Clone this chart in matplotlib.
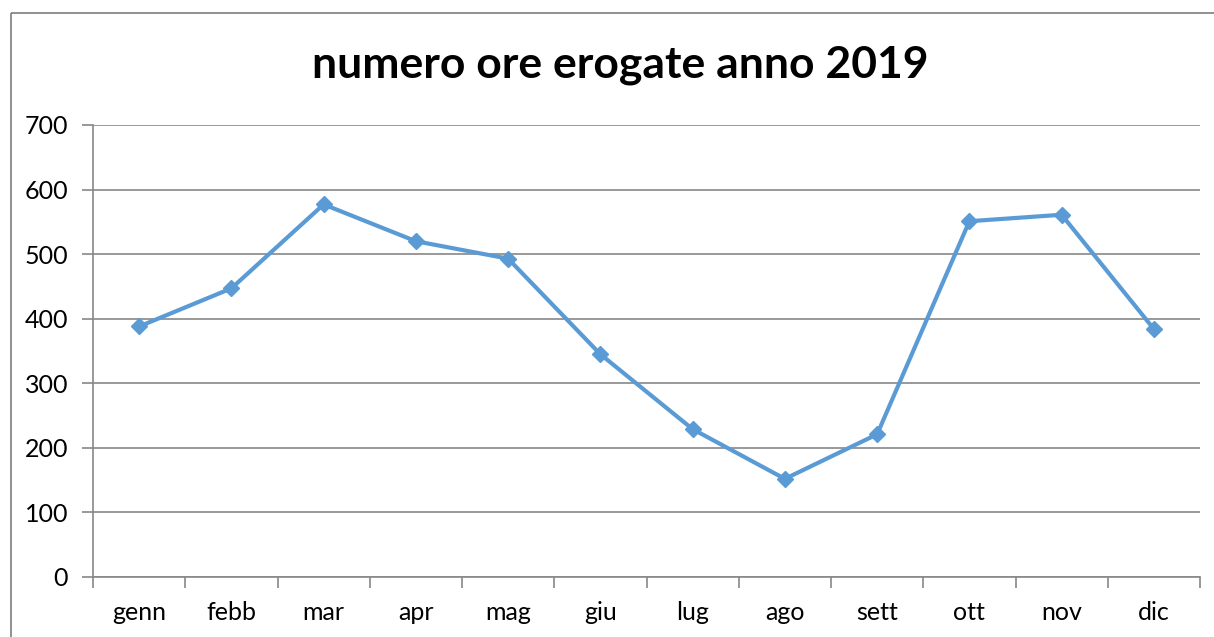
import matplotlib
matplotlib.use("Agg")
import matplotlib.pyplot as plt
from matplotlib.lines import Line2D
import numpy as np

months = ["genn", "febb", "mar", "apr", "mag", "giu", "lug", "ago", "sett", "ott", "nov", "dic"]
hours = [388, 447, 577, 520, 493, 345, 229, 152, 221, 551, 561, 384]
yticks = [0, 100, 200, 300, 400, 500, 600, 700]
title = "numero ore erogate anno 2019"

plt.rcParams['font.family'] = ['Lato', 'DejaVu Sans']

W, H = 1214, 637
fig = plt.figure(figsize=(W/100, H/100), dpi=100)

# outer chart border (top and left visible; the rest is cropped off)
bx, by = 10.5/W, 1 - 12.5/H
fig.lines.append(Line2D([bx, 1.02], [by, by], transform=fig.transFigure,
                        color="#888888", linewidth=1.3, solid_capstyle="butt"))
fig.lines.append(Line2D([bx, bx], [-0.02, by], transform=fig.transFigure,
                        color="#888888", linewidth=1.3, solid_capstyle="butt"))

ax = fig.add_axes([93/W, 1 - 577/H, (1200-93)/W, (577-125)/H])
x = np.arange(len(months))
ax.plot(x, hours, color="#5B9BD5", linewidth=3, marker="D", markersize=8,
        markeredgecolor="#5B9BD5", zorder=3, clip_on=False)

ax.set_xlim(-0.5, len(months) - 0.5)
ax.set_ylim(0, 700)
ax.set_yticks(yticks)
ax.set_yticklabels([str(v) for v in yticks])
ax.set_xticks(x)
ax.set_xticklabels(months)
ax.set_xticks(np.arange(-0.5, len(months)), minor=True)
ax.tick_params(axis="x", which="major", length=0, pad=17, labelsize=18)
ax.tick_params(axis="x", which="minor", length=8, color="#888888", width=1.2)
ax.tick_params(axis="y", length=8, color="#888888", width=1.2, pad=10, labelsize=18)

ax.grid(axis="y", color="#888888", linewidth=1.2, zorder=0)
for s in ["top", "right"]:
    ax.spines[s].set_visible(False)
for s in ["left", "bottom"]:
    ax.spines[s].set_color("#888888")
    ax.spines[s].set_linewidth(1.2)

fig.text(620/W, 1 - 65/H, title, ha="center", va="center", fontsize=32, fontweight="bold")

fig.savefig("out.png", dpi=100)
